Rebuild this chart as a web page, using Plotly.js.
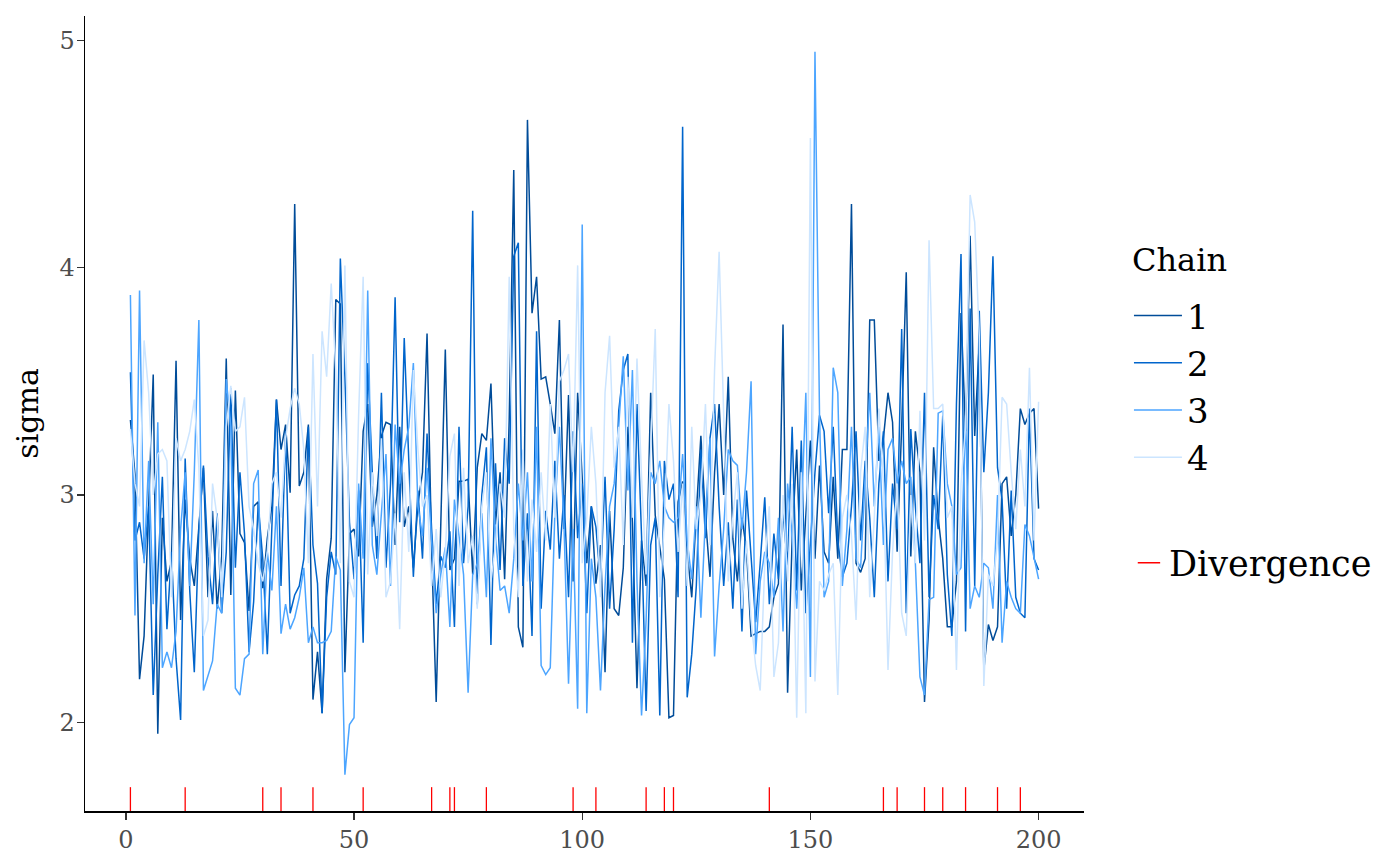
<!DOCTYPE html>
<html>
<head>
<meta charset="utf-8">
<script src="https://cdn.plot.ly/plotly-3.0.1.min.js"></script>
<style>html,body{margin:0;padding:0;background:#fff;}#chart{width:1400px;height:866px;}</style>
</head>
<body>
<div id="chart"></div>
<script>
const chainNames = ["1", "2", "3", "4"];
const chainColors = ["#004c99", "#0065cc", "#4ca5ff", "#cce5ff"];

const chain1 = [
3.33,3.09,2.19,2.38,2.95,3.53,1.95,2.90,2.62,2.71,
3.59,2.45,2.98,2.72,2.60,2.88,3.12,2.55,2.93,2.50,
2.73,3.60,2.56,3.46,2.83,2.79,2.49,2.95,2.97,2.59,
2.81,2.95,3.42,3.20,3.31,3.01,4.28,3.04,3.10,3.31,
2.10,2.31,2.04,2.63,2.81,3.86,3.84,2.22,2.83,2.85,
2.73,3.28,3.40,2.86,3.00,3.26,3.32,3.31,2.78,3.30,
2.86,2.95,2.68,2.96,3.10,3.71,2.76,2.09,2.82,3.64,
2.67,2.72,3.06,3.06,3.07,2.65,3.12,3.27,3.24,3.49,
2.87,3.10,2.63,3.33,4.43,2.42,2.33,4.65,3.80,3.96,
3.51,3.52,3.40,3.27,3.77,2.85,3.44,2.62,3.45,3.10,
2.70,2.95,2.61,2.78,2.22,2.93,2.50,2.47,2.68,3.30,
2.88,2.15,2.80,2.60,3.45,2.91,2.78,2.63,2.02,2.03,
2.97,3.06,2.75,2.55,2.92,3.26,2.90,2.64,3.10,3.40,
3.00,3.52,2.81,2.62,2.90,2.76,2.38,2.39,2.40,2.40,
2.42,2.55,2.61,3.75,2.13,2.81,3.20,2.58,2.90,3.24,
2.72,3.13,2.75,2.70,3.08,2.72,3.20,3.20,4.28,2.70,
2.66,2.72,3.77,3.77,3.15,3.25,3.45,3.32,2.75,3.30,
3.98,2.73,3.28,3.10,2.09,2.45,3.21,2.90,2.72,2.42,
2.42,2.62,3.80,3.28,4.14,3.26,3.67,2.23,2.43,2.36,
2.42,3.05,3.08,2.82,3.00,3.38,3.31,3.36,3.38,2.94];

const chain2 = [
3.54,2.80,2.88,2.72,2.95,2.12,2.65,3.08,2.41,2.75,
2.28,2.01,3.16,2.58,2.22,2.85,3.13,2.73,2.52,2.92,
2.48,2.75,3.47,2.68,3.10,2.83,2.31,2.53,2.96,2.72,
2.30,2.90,3.42,2.60,3.28,2.48,2.56,2.60,2.72,3.30,
2.78,2.61,2.04,2.55,2.75,2.65,4.04,3.52,2.88,2.63,
3.02,2.35,3.58,3.10,2.72,3.45,2.68,3.05,3.87,2.88,
3.69,3.15,2.64,3.02,2.72,3.27,2.85,2.52,2.73,2.68,
2.84,2.42,3.30,2.70,2.95,4.25,2.52,3.00,3.21,2.34,
3.14,2.67,3.25,3.05,4.05,4.11,2.60,2.92,2.38,3.72,
2.50,2.93,2.76,3.15,2.72,3.00,2.55,3.28,2.81,3.05,
2.48,2.95,2.86,2.62,3.08,2.50,2.85,3.37,3.55,3.62,
2.35,3.40,2.82,2.05,2.78,2.90,2.03,3.15,2.98,3.05,
2.55,4.62,2.11,2.30,2.60,3.20,2.81,3.25,3.40,2.95,
2.60,2.88,2.50,2.98,2.40,3.02,2.72,2.44,2.70,2.99,
2.52,2.83,2.63,2.92,2.69,3.30,2.58,3.24,2.48,2.80,
3.10,3.35,3.28,2.92,3.30,2.80,2.64,2.70,2.95,3.28,
2.80,3.15,2.90,2.55,3.05,3.28,2.62,3.05,2.85,3.73,
2.48,3.29,2.95,2.70,3.45,2.55,3.00,2.85,3.35,2.65,
2.38,3.40,4.06,2.40,3.82,2.60,3.81,3.10,3.45,4.05,
3.12,2.98,2.50,3.02,2.55,2.48,2.46,3.38,2.72,2.67];

const chain3 = [
3.88,2.47,3.90,2.70,3.15,2.52,3.32,2.24,2.31,2.24,
2.40,2.85,3.10,2.60,3.10,3.77,2.14,2.20,2.27,2.52,
2.48,3.51,3.30,2.15,2.12,2.28,2.30,3.05,3.11,2.30,
2.75,2.58,2.95,2.39,2.52,2.41,2.46,2.55,2.68,2.35,
2.42,2.35,2.35,2.36,2.40,2.73,2.67,1.77,1.99,2.02,
3.05,2.72,3.90,2.78,2.65,2.92,3.18,2.60,3.31,3.05,
3.20,3.30,3.58,2.95,2.82,3.12,2.78,2.48,2.65,2.77,
2.42,2.98,2.82,2.65,2.13,2.65,2.70,2.92,2.55,3.25,
2.82,2.58,2.60,2.48,2.72,3.05,2.80,3.10,2.62,3.30,
2.25,2.21,2.24,2.92,3.30,2.87,2.17,2.85,2.06,4.19,
2.04,2.72,2.55,2.14,2.60,2.95,3.05,3.30,3.61,3.02,
3.55,2.62,2.03,2.45,3.10,3.05,3.15,2.95,2.90,2.88,
2.90,3.18,2.80,2.63,2.95,2.46,2.90,3.25,2.29,2.60,
2.85,3.20,3.15,3.13,2.85,3.10,3.50,2.30,2.62,2.75,
2.70,2.55,2.90,2.40,3.05,2.82,2.50,2.90,3.45,2.20,
4.95,3.35,2.55,2.62,3.56,3.45,2.60,2.85,3.30,2.72,
2.68,3.08,3.45,2.95,3.30,2.78,3.20,3.25,3.05,3.15,
3.05,3.08,2.70,2.20,2.12,2.54,2.55,3.36,3.37,3.05,
2.95,2.65,2.68,3.35,2.50,2.60,2.55,2.70,2.68,2.50,
3.00,2.35,2.62,2.55,2.50,2.48,2.87,2.82,2.72,2.63];

const chain4 = [
3.29,3.05,2.95,3.68,3.45,3.00,3.18,3.20,3.15,2.55,
3.25,3.15,3.20,3.28,3.42,3.12,2.38,2.45,3.05,2.90,
2.55,3.30,3.48,3.28,3.30,3.43,2.95,2.85,2.70,2.62,
2.75,3.05,3.10,2.90,3.25,3.38,3.47,3.40,3.20,2.70,
3.62,2.95,3.72,3.52,3.93,3.55,2.70,4.01,2.62,2.55,
3.35,3.96,2.65,3.10,2.82,3.25,2.55,2.62,2.92,2.41,
3.10,2.75,3.55,3.20,2.95,3.00,2.60,2.85,2.55,2.75,
3.17,3.27,2.60,3.12,2.70,2.82,2.50,2.95,3.10,2.62,
2.78,3.05,2.90,3.96,2.85,2.55,3.20,2.62,2.98,2.75,
3.10,2.80,3.40,2.90,3.50,3.55,3.62,3.10,4.01,2.70,
2.90,3.30,3.05,2.55,3.45,3.70,3.12,3.30,2.78,3.52,
2.90,3.60,3.08,2.65,3.20,3.73,2.55,2.88,3.40,3.15,
2.75,3.05,2.60,3.30,2.85,3.00,3.40,2.78,3.55,4.07,
3.35,2.62,2.90,3.10,2.50,2.80,2.45,2.25,2.14,2.70,
2.95,2.20,2.35,3.00,2.62,3.05,2.02,3.10,2.04,4.57,
2.18,2.62,2.58,2.65,2.70,2.12,2.90,3.00,2.82,2.45,
3.10,3.30,2.55,2.90,3.38,3.05,2.23,2.75,3.05,2.48,
2.38,3.00,2.70,3.37,2.80,4.12,3.38,3.38,3.40,2.90,
2.95,2.23,3.05,3.30,4.32,4.20,3.70,2.16,2.65,2.60,
2.80,3.43,3.40,3.10,2.85,3.20,2.95,3.56,2.80,3.41];

const divergences = [1,13,30,34,41,52,67,71,72,79,98,103,114,118,120,141,166,169,175,179,184,191,196];

const xTicks = [0, 50, 100, 150, 200];
const yTicks = [2, 3, 4, 5];
const yTitle = "sigma";
const legendTitle = "Chain";
const divLabel = "Divergence";

const chains = [chain1, chain2, chain3, chain4];
const traces = chains.map((vals, k) => ({
  type: "scatter", mode: "lines",
  x: vals.map((_, i) => i + 1), y: vals,
  name: chainNames[k],
  line: { color: chainColors[k], width: 1.5 },
  legend: "legend",
  hoverinfo: "skip"
}));

// rug of divergences on an overlaid [0,1] axis
const rx = [], ry = [];
divergences.forEach(d => { rx.push(d, d, null); ry.push(0, 0.03, null); });
traces.push({
  type: "scatter", mode: "lines", x: rx, y: ry, yaxis: "y2",
  line: { color: "#ff0000", width: 1.3 }, showlegend: false, hoverinfo: "skip"
});
traces.push({
  type: "scatter", mode: "markers", x: [null], y: [null],
  name: divLabel, legend: "legend2",
  marker: { symbol: "line-ew", size: 16, color: "#ff0000", line: { color: "#ff0000", width: 1.3 } },
  showlegend: true
});

const serif = "DejaVu Serif, serif";
const layout = {
  width: 1400, height: 866,
  paper_bgcolor: "#ffffff", plot_bgcolor: "#ffffff",
  margin: { l: 85, r: 316, t: 16, b: 55 },
  font: { family: serif, color: "#000" },
  showlegend: true,
  xaxis: {
    range: [-8.95, 209.95], tickvals: xTicks, ticktext: xTicks.map(String),
    showgrid: false, zeroline: false, showline: true, linecolor: "#000", linewidth: 1.5,
    ticks: "outside", ticklen: 7, tickcolor: "#333", tickwidth: 1.3,
    tickfont: { family: serif, size: 24, color: "#4d4d4d" }
  },
  yaxis: {
    range: [1.61, 5.107], tickvals: yTicks, ticktext: yTicks.map(String),
    showgrid: false, zeroline: false, showline: true, linecolor: "#000", linewidth: 1.5,
    ticks: "outside", ticklen: 7, tickcolor: "#333", tickwidth: 1.3, ticklabelstandoff: -3,
    tickfont: { family: serif, size: 24, color: "#4d4d4d" },
    title: { text: yTitle, font: { family: serif, size: 30, color: "#000" }, standoff: 12 }
  },
  yaxis2: { range: [0, 1], overlaying: "y", visible: false, fixedrange: true },
  annotations: [{
    text: legendTitle, xref: "paper", yref: "paper",
    x: 1.046, xanchor: "left", y: (811 - 260) / 795, yanchor: "middle",
    showarrow: false, font: { family: serif, size: 32, color: "#000" }
  }],
  legend: {
    x: 1.045, xanchor: "left", y: (811 - 287) / 795, yanchor: "top",
    font: { family: serif, size: 34, color: "#000" },
    bgcolor: "rgba(0,0,0,0)", tracegroupgap: 0, itemwidth: 48
  },
  legend2: {
    x: 1.045, xanchor: "left", y: (811 - 563) / 795, yanchor: "middle",
    font: { family: serif, size: 35, color: "#000" },
    bgcolor: "rgba(0,0,0,0)", itemwidth: 30
  }
};

Plotly.newPlot("chart", traces, layout, { displayModeBar: false, staticPlot: true });
</script>
</body>
</html>
